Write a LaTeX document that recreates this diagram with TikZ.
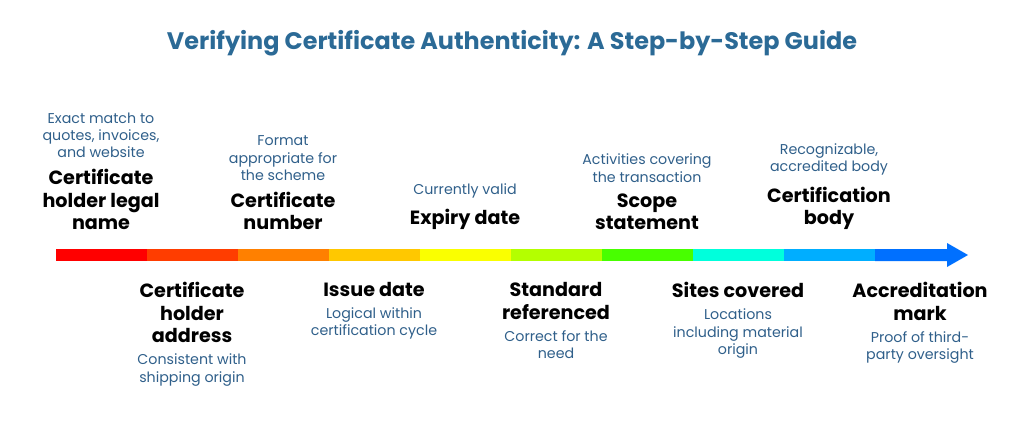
\documentclass[tikz,border=0pt]{standalone}
\usepackage{fontspec}
\setmainfont{Poppins}
\usetikzlibrary{positioning}
\definecolor{titleblue}{HTML}{2B6A96}
\definecolor{descblue}{HTML}{2F5F8A}
\tikzset{
  steptitle/.style={font=\fontsize{10.9}{12.8}\selectfont\bfseries, align=center, inner sep=0pt, text=black},
  stepdesc/.style={font=\fontsize{8.1}{9.8}\selectfont, align=center, inner sep=0pt, text=descblue},
}
\begin{document}
\begin{tikzpicture}[x=0.02cm, y=-0.02cm, node distance=6pt]
  \useasboundingbox (0,0) rectangle (1024,433);
  %Title
  \node[font=\fontsize{13.6}{16}\selectfont\bfseries, text=titleblue] (title) at (512,43) {Verifying Certificate Authenticity: A Step-by-Step Guide};
  %Colour bar
  \foreach \c [count=\i from 0] in {FF0000,FF3D00,FF8000,FFC800,FAFF00,B4FF00,48FF00,00FFDC,00AEFF} {
    \definecolor{seg}{HTML}{\c}
    \fill[seg] (56+91*\i,249) rectangle (147+91*\i,261);
  }
  \definecolor{seg}{HTML}{0070FF}
  \fill[seg] (875,249) -- (947,249) -- (947,243) -- (968,255) -- (947,267) -- (947,261) -- (875,261) -- cycle;
  %Steps above the bar
  \node[steptitle, anchor=south] (holdername) at (101,230) {Certificate\\holder legal\\name};
  \node[stepdesc, above=of holdername] (holdernamed) {Exact match to\\quotes, invoices,\\and website};
  \node[steptitle, anchor=south] (certnumber) at (283,230) {Certificate\\number};
  \node[stepdesc, above=of certnumber] (certnumberd) {Format\\appropriate for\\the scheme};
  \node[steptitle, anchor=south] (expiry) at (465,230) {Expiry date};
  \node[stepdesc, above=of expiry] (expiryd) {Currently valid};
  \node[steptitle, anchor=south] (scope) at (647,230) {Scope\\statement};
  \node[stepdesc, above=of scope] (scoped) {Activities covering\\the transaction};
  \node[steptitle, anchor=south] (certbody) at (829,230) {Certification\\body};
  \node[stepdesc, above=of certbody] (certbodyd) {Recognizable,\\accredited body};
  %Steps below the bar
  \node[steptitle, anchor=north] (holderaddr) at (192,282) {Certificate\\holder\\address};
  \node[stepdesc, below=of holderaddr] (holderaddrd) {Consistent with\\shipping origin};
  \node[steptitle, anchor=north] (issue) at (374,282) {Issue date};
  \node[stepdesc, below=of issue] (issued) {Logical within\\certification cycle};
  \node[steptitle, anchor=north] (standard) at (556,282) {Standard\\referenced};
  \node[stepdesc, below=of standard] (standardd) {Correct for the\\need};
  \node[steptitle, anchor=north] (sites) at (738,282) {Sites covered};
  \node[stepdesc, below=of sites] (sitesd) {Locations\\including material\\origin};
  \node[steptitle, anchor=north] (accmark) at (920,282) {Accreditation\\mark};
  \node[stepdesc, below=of accmark] (accmarkd) {Proof of third-\\party oversight};
\end{tikzpicture}
\end{document}
